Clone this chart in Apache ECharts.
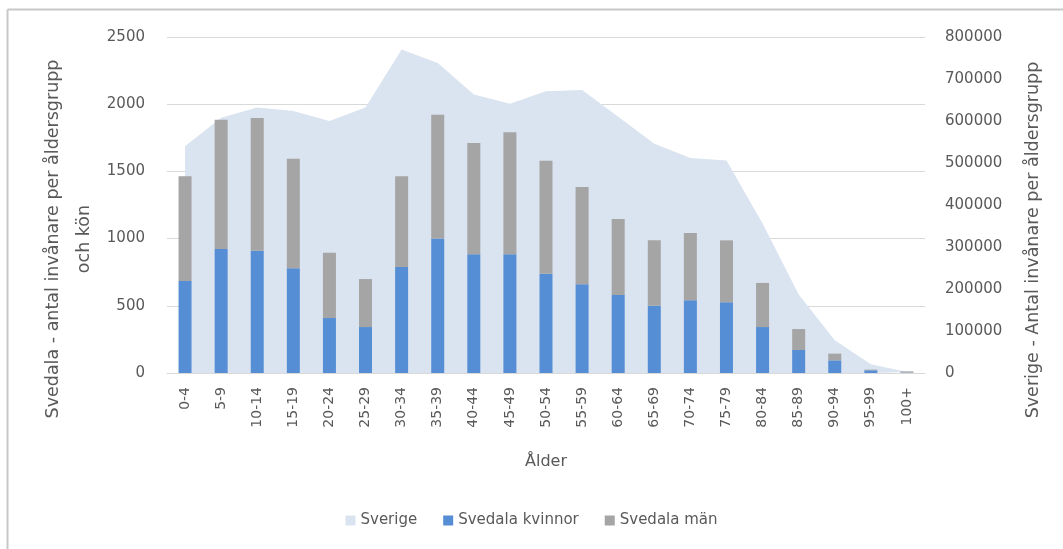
<!DOCTYPE html>
<html>
<head>
<meta charset="utf-8">
<script src="https://cdn.jsdelivr.net/npm/echarts@6/dist/echarts.min.js"></script>
<style>html,body{margin:0;padding:0;background:#fff}#c{width:1063px;height:549px}</style>
</head>
<body>
<div id="c"></div>
<script>
const categories = ['0-4','5-9','10-14','15-19','20-24','25-29','30-34','35-39','40-44','45-49','50-54','55-59','60-64','65-69','70-74','75-79','80-84','85-89','90-94','95-99','100+'];
const sverige = [540000, 608000, 632000, 624000, 600000, 632000, 770000, 738000, 663000, 641000, 671000, 674000, 610000, 546000, 512000, 506000, 356000, 187000, 78000, 21000, 2400];
const svedalaKvinnor = [685, 923, 910, 779, 409, 342, 789, 1000, 883, 883, 739, 660, 580, 501, 541, 526, 342, 171, 94, 20, 3];
const svedalaMan = [778, 962, 987, 816, 486, 357, 674, 922, 828, 908, 841, 724, 566, 486, 501, 461, 328, 156, 50, 5, 9];
const leftTicks = {min: 0, max: 2500, interval: 500};
const rightTicks = {min: 0, max: 800000, interval: 100000};

const FONT = 'DejaVu Sans';
const TXT = '#595959';
const plain = v => String(v);
const chart = echarts.init(document.getElementById('c'), null, {renderer: 'canvas'});
chart.setOption({
  animation: false,
  backgroundColor: '#fff',
  textStyle: {fontFamily: FONT, color: TXT},
  grid: {left: 167, right: 138, top: 37, bottom: 176, containLabel: false},
  legend: {
    bottom: 16, left: 'center', itemWidth: 10, itemHeight: 10, itemGap: 26,
    icon: 'rect',
    data: ['Sverige', 'Svedala kvinnor', 'Svedala män'],
    textStyle: {fontFamily: FONT, fontSize: 15, color: TXT}
  },
  xAxis: {
    type: 'category', data: categories,
    name: 'Ålder', nameLocation: 'middle', nameGap: 81,
    nameTextStyle: {fontFamily: FONT, fontSize: 16, color: TXT},
    axisLine: {lineStyle: {color: '#D9D9D9', width: 1}},
    axisTick: {show: false},
    axisLabel: {rotate: 90, margin: 14, fontFamily: FONT, fontSize: 14, color: TXT, interval: 0}
  },
  yAxis: [
    {type: 'value', min: leftTicks.min, max: leftTicks.max, interval: leftTicks.interval,
     axisLine: {show: false}, axisTick: {show: false},
     splitLine: {lineStyle: {color: '#D9D9D9', width: 1}},
     axisLabel: {margin: 22, fontFamily: FONT, fontSize: 15, color: TXT, formatter: plain}},
    {type: 'value', min: rightTicks.min, max: rightTicks.max, interval: rightTicks.interval,
     axisLine: {show: false}, axisTick: {show: false}, splitLine: {show: false},
     axisLabel: {margin: 20, fontFamily: FONT, fontSize: 15, color: TXT, formatter: plain}}
  ],
  series: [
    {name: 'Sverige', type: 'line', yAxisIndex: 1, data: sverige, symbol: 'none', z: 1,
     itemStyle: {color: '#DAE3F0'},
     lineStyle: {width: 0, color: '#DAE3F0'}, areaStyle: {color: '#DAE3F0', opacity: 1}},
    {name: 'Svedala kvinnor', type: 'bar', stack: 's', data: svedalaKvinnor, barWidth: 13, z: 3,
     itemStyle: {color: '#558ED5'}},
    {name: 'Svedala män', type: 'bar', stack: 's', data: svedalaMan, barWidth: 13, z: 3,
     itemStyle: {color: '#A5A5A5'}}
  ],
  graphic: [
    {type: 'line', shape: {x1: 7.5, y1: 9.5, x2: 1063, y2: 9.5}, style: {stroke: '#C8C8C8', lineWidth: 2}, silent: true},
    {type: 'line', shape: {x1: 7.5, y1: 9.5, x2: 7.5, y2: 549}, style: {stroke: '#C8C8C8', lineWidth: 2}, silent: true},
    {type: 'text', x: 69, y: 239, rotation: Math.PI / 2,
     style: {text: 'Svedala - antal invånare per åldersgrupp\noch kön', font: '17.5px "DejaVu Sans"', fill: TXT,
             align: 'center', verticalAlign: 'middle', lineHeight: 31}},
    {type: 'text', x: 1033, y: 240, rotation: Math.PI / 2,
     style: {text: 'Sverige - Antal invånare per åldersgrupp', font: '17.5px "DejaVu Sans"', fill: TXT,
             align: 'center', verticalAlign: 'middle'}}
  ]
});
</script>
</body>
</html>
